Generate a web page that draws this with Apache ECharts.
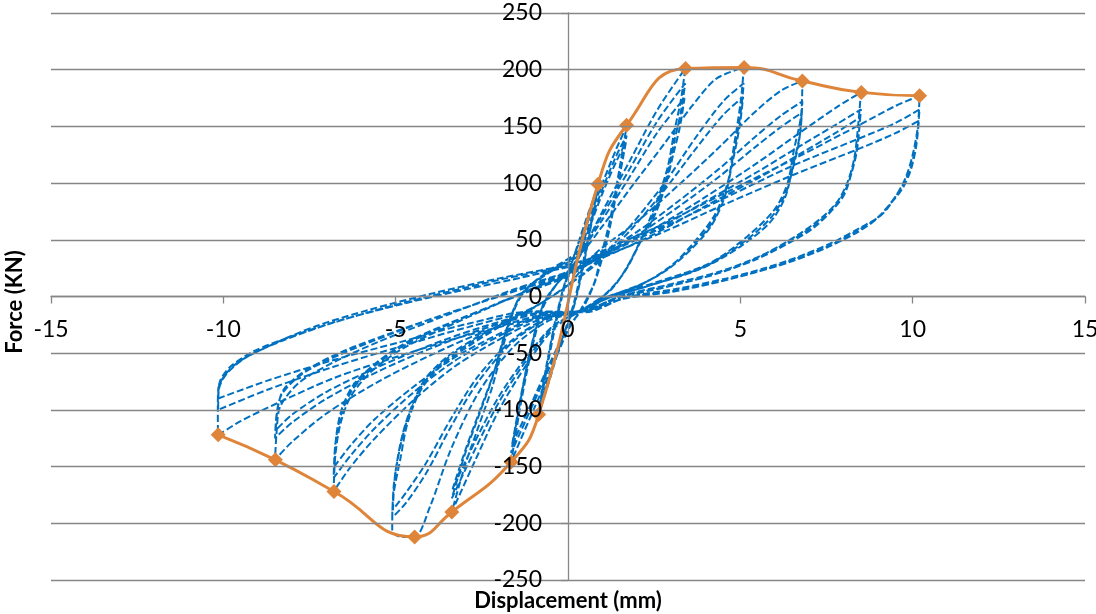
<!DOCTYPE html>
<html>
<head>
<meta charset="utf-8">
<script src="https://cdn.jsdelivr.net/npm/echarts@6/dist/echarts.min.js"></script>
<style>
  html, body { margin: 0; padding: 0; background: #ffffff; }
  #chart { width: 1096px; height: 614px; }
</style>
</head>
<body>
<div id="chart"></div>
<script>
// Axis ticks
const xTicks = { min: -15, max: 15, step: 5 };
const yTicks = { min: -250, max: 250, step: 50 };

// Envelope (skeleton) curve
const envelopeX = [-10.15, -8.49, -6.79, -4.45, -3.37, -1.65, -0.85, 0.87, 1.7, 3.41, 5.11, 6.8, 8.51, 10.2];
const envelopeY = [-122, -144, -172, -212, -190, -146, -104, 99, 151, 201, 202, 190, 180, 177];

// Hysteresis loops, one array per displacement level (x = mm, y = kN), in loading order
const levelA = [
  [0,0],[0.3,35],[0.6,72],[0.87,99],
  [0.65,62],[0.4,25],[0.15,-8],[-0.2,-40],[-0.55,-75],[-0.85,-104],
  [-0.62,-65],[-0.38,-28],[-0.12,6],[0.2,38],[0.55,70],[0.86,96],
  [0.64,59],[0.4,22],[0.15,-10],[-0.2,-40],[-0.55,-72],[-0.84,-100],
  [-0.62,-62],[-0.38,-25],[-0.12,8],[0.2,38],[0.55,68],[0.85,93],
  [0.63,56],[0.4,20],[0.15,-11],[-0.2,-40],[-0.55,-70],[-0.83,-97],
  [-0.62,-60],[-0.38,-23],[-0.12,9],[0.2,38]
];
const levelB = [
  [0.5,60],[1.0,100],[1.4,130],[1.7,150],
  [1.45,105],[1.2,65],[0.95,35],[0.76,12],[0.4,-10],
  [0,-30],[-0.5,-65],[-1.0,-100],[-1.4,-128],[-1.65,-146],
  [-1.4,-100],[-1.15,-60],[-0.9,-28],[-0.7,-8],[-0.3,12],[0.2,30],
  [0.6,62],[1.0,95],[1.4,124],[1.7,142],
  [1.45,100],[1.2,60],[0.95,30],[0.74,10],[0.4,-11],
  [0,-28],[-0.5,-60],[-1.0,-94],[-1.4,-121],[-1.65,-138],
  [-1.4,-95],[-1.15,-56],[-0.9,-25],[-0.7,-6],[-0.3,12],[0.2,29],
  [0.6,59],[1.0,91],[1.4,119],[1.68,136],
  [1.43,95],[1.18,56],[0.93,27],[0.72,8],[0.4,-12],
  [0,-27],[-0.5,-57],[-1.0,-90],[-1.4,-116],[-1.63,-132],
  [-1.38,-90],[-1.13,-52],[-0.88,-22],[-0.68,-4],[-0.3,12],[0.2,28]
];
const levelC = [
  [1.0,75],[1.8,120],[2.6,165],[3.4,201],
  [3.28,174],[3.08,145],[2.9,115],[2.6,86],[2.2,56],[1.73,27],[1.25,6],[0.5,-10],
  [-0.4,-28],[-1.2,-60],[-2,-100],[-2.7,-145],[-3.37,-190],
  [-3.0,-150],[-2.6,-115],[-2.2,-80],[-1.8,-35],[-1.4,0],[-0.6,22],[0.3,40],
  [1,72],[1.8,113],[2.6,155],[3.4,188],
  [3.27,162],[3.07,135],[2.88,107],[2.57,80],[2.15,52],[1.7,25],[1.2,5],[0.5,-11],
  [-0.4,-26],[-1.2,-56],[-2,-93],[-2.7,-135],[-3.37,-178],
  [-3.0,-140],[-2.6,-106],[-2.2,-72],[-1.8,-30],[-1.35,2],[-0.6,21],[0.3,38],
  [1,68],[1.8,106],[2.6,145],[3.38,175],
  [3.25,150],[3.05,125],[2.85,100],[2.55,74],[2.1,48],[1.65,22],[1.15,4],[0.5,-11],
  [-0.4,-25],[-1.2,-53],[-2,-88],[-2.7,-128],[-3.35,-170],
  [-2.95,-133],[-2.55,-100],[-2.15,-67],[-1.75,-27],[-1.3,3],[-0.6,20],[0.3,36]
];
const levelD = [
  [1.0,62],[1.8,95],[2.8,135],[3.6,168],[4.3,192],[5.1,202],
  [5.02,174],[4.8,130],[4.63,100],[4.24,71],[3.66,48],[3,27],[2.2,12],[1.2,0],[0.4,-12],
  [-0.6,-22],[-1.6,-45],[-2.6,-85],[-3.4,-135],[-4.0,-185],[-4.45,-212],[-4.8,-212],[-5.1,-207],
  [-5.08,-180],[-4.85,-141],[-4.65,-111],[-4.26,-82],[-3.68,-61],[-2.9,-44],[-2,-27],[-1,-10],[0,10],
  [0.8,30],[1.8,62],[2.8,100],[3.7,140],[4.5,172],[5.1,188],
  [5.0,160],[4.78,122],[4.58,94],[4.2,66],[3.6,44],[2.9,25],[2.1,10],[1.1,-1],[0.4,-12],
  [-0.6,-20],[-1.6,-40],[-2.6,-75],[-3.4,-115],[-4.1,-155],[-4.7,-182],[-5.1,-195],
  [-5.05,-165],[-4.85,-130],[-4.6,-103],[-4.2,-77],[-3.6,-57],[-2.8,-40],[-1.9,-24],[-0.9,-8],[0,10],
  [0.8,28],[1.8,58],[2.8,94],[3.7,130],[4.5,160],[5.08,176],
  [4.98,150],[4.75,115],[4.55,88],[4.15,62],[3.55,41],[2.85,23],[2.0,9],[1.0,-2],[0.4,-13],
  [-0.6,-19],[-1.6,-38],[-2.6,-70],[-3.4,-108],[-4.1,-146],[-4.7,-173],[-5.08,-188],
  [-5.02,-158],[-4.82,-124],[-4.55,-98],[-4.15,-73],[-3.5,-53],[-2.7,-37],[-1.8,-22],[-0.8,-6],[0,10]
];
const levelE = [
  [0.8,38],[2,66],[3.2,98],[4.4,132],[5.4,162],[6.2,182],[6.8,190],
  [6.76,159],[6.56,130],[6.37,100],[6.0,77],[5.2,53],[4.15,30],[2.5,12],[1.2,0],[0.4,-12],
  [-0.8,-20],[-2,-38],[-3.3,-62],[-4.5,-92],[-5.6,-125],[-6.3,-150],[-6.8,-172],
  [-6.75,-140],[-6.6,-112],[-6.3,-88],[-5.7,-66],[-4.8,-46],[-3.6,-28],[-2.3,-10],[-1.2,5],[0,20],
  [0.8,35],[2,57],[3.2,84],[4.4,113],[5.4,140],[6.2,160],[6.8,172],
  [6.74,145],[6.55,118],[6.33,92],[5.9,70],[5.1,48],[4.0,27],[2.4,10],[1.2,-1],[0.4,-12],
  [-0.8,-18],[-2,-35],[-3.3,-57],[-4.5,-85],[-5.6,-116],[-6.3,-140],[-6.8,-160],
  [-6.75,-130],[-6.58,-104],[-6.25,-82],[-5.6,-61],[-4.7,-42],[-3.5,-25],[-2.2,-8],[-1.1,6],[0,19],
  [0.8,33],[2,54],[3.2,79],[4.4,106],[5.4,131],[6.2,150],[6.78,162],
  [6.7,136],[6.5,110],[6.28,86],[5.85,65],[5.0,44],[3.9,25],[2.3,9],[1.1,-2],[0.4,-13],
  [-0.8,-17],[-2,-33],[-3.3,-54],[-4.5,-80],[-5.6,-108],[-6.3,-131],[-6.78,-150],
  [-6.72,-122],[-6.55,-98],[-6.2,-77],[-5.5,-57],[-4.6,-39],[-3.4,-23],[-2.1,-7],[-1.0,6],[0,18]
];
const levelF = [
  [1,36],[2.5,60],[4,88],[5.5,118],[6.8,146],[7.8,167],[8.5,180],
  [8.4,145],[8.3,121],[8.1,100],[7.8,83],[7.3,68],[6.6,53],[5.6,36],[4.4,22],[3,11],[1.6,1],[0.5,-12],
  [-1,-18],[-2.5,-32],[-4,-52],[-5.5,-75],[-7,-103],[-8,-128],[-8.5,-144],
  [-8.45,-118],[-8.35,-97],[-7.8,-76],[-6.8,-58],[-5.5,-40],[-4,-22],[-2.8,-8],[-1.6,6],[0,22],
  [1,36],[2.5,58],[4,84],[5.5,110],[6.8,134],[7.8,152],[8.5,165],
  [8.4,135],[8.25,112],[8.05,94],[7.7,78],[7.2,64],[6.5,50],[5.5,34],[4.3,20],[2.9,9],[1.5,0],[0.5,-12],
  [-1,-16],[-2.5,-29],[-4,-46],[-5.5,-66],[-7,-90],[-8,-111],[-8.5,-125],
  [-8.45,-103],[-8.3,-86],[-7.7,-68],[-6.6,-51],[-5.3,-35],[-3.9,-19],[-2.6,-6],[-1.4,7],[0,21],
  [1,34],[2.5,55],[4,80],[5.5,104],[6.8,127],[7.8,145],[8.48,158],
  [8.38,128],[8.2,106],[8.0,89],[7.6,74],[7.1,60],[6.4,47],[5.4,32],[4.2,19],[2.8,8],[1.5,-1],[0.5,-13],
  [-1,-15],[-2.5,-27],[-4,-43],[-5.5,-62],[-7,-84],[-8,-104],[-8.48,-118],
  [-8.42,-98],[-8.25,-82],[-7.6,-65],[-6.5,-48],[-5.2,-33],[-3.8,-18],[-2.5,-5],[-1.3,7],[0,20]
];
const levelG = [
  [0.8,37],[2.7,63],[4.6,92],[6.6,122],[8.5,152],[9.5,168],[10.2,177],
  [10.15,150],[10.0,125],[9.8,105],[9.5,88],[9.1,72],[8.5,61],[7.7,48],[6.6,34],[5.6,24],[4.6,16],[3.2,7],[1.8,0],[0.6,-12],
  [-1,-20],[-2.9,-34],[-4.85,-52],[-6.8,-72],[-8.5,-95],[-9.5,-110],[-10.15,-122],
  [-10.16,-100],[-10.15,-82],[-9.7,-61],[-8.7,-44],[-7.3,-26],[-5.8,-12],[-3.9,3],[-2,16],[0,28],
  [0.76,35],[2.7,60],[4.63,88],[6.57,116],[8.5,140],[9.5,153],[10.2,165],
  [10.12,140],[9.98,118],[9.75,100],[9.4,84],[9.0,70],[8.4,58],[7.6,45],[6.5,32],[5.5,22],[4.5,14],[3.1,5],[1.7,-1],[0.5,-13],
  [-1,-14],[-2.9,-27],[-4.85,-44],[-6.8,-62],[-8.7,-82],[-10.15,-100],
  [-10.13,-82],[-9.9,-68],[-9.3,-53],[-8.2,-38],[-6.8,-23],[-5.2,-9],[-3.5,4],[-1.8,16],[0,27],
  [0.8,33],[2.7,56],[4.6,82],[6.6,108],[8.5,131],[9.5,144],[10.18,155],
  [10.1,132],[9.95,112],[9.7,95],[9.3,80],[8.9,67],[8.3,55],[7.5,43],[6.4,30],[5.4,21],[4.4,13],[3.0,4],[1.6,-2],[0.5,-14],
  [-1,-13],[-2.9,-24],[-4.85,-40],[-6.8,-56],[-8.7,-74],[-10.15,-90],
  [-10.1,-75],[-9.8,-62],[-9.1,-48],[-8,-35],[-6.6,-21],[-5,-8],[-3.3,4],[-1.6,15],[0,26]
];

const xTitle = 'Displacement (mm)';
const yTitle = 'Force (KN)';

const loopData = [].concat(levelA, levelB, levelC, levelD, levelE, levelF, levelG);
const envelopeData = envelopeX.map((x, i) => [x, envelopeY[i]]);

const chart = echarts.init(document.getElementById('chart'), null, { renderer: 'canvas' });
const FONT = 'Lato';
const GRAY = '#868686';

// grid geometry
const G_LEFT = 51, G_RIGHT = 11, G_TOP = 13, G_BOTTOM = 34;
const plotW = 1096 - G_LEFT - G_RIGHT;
const plotH = 614 - G_TOP - G_BOTTOM;
// offsets that place each axis (line + ticks + labels) on the other axis's zero
const yAxisOffset = -plotW * (0 - xTicks.min) / (xTicks.max - xTicks.min);
const xAxisOffset = -plotH * (0 - yTicks.min) / (yTicks.max - yTicks.min);

chart.setOption({
  animation: false,
  backgroundColor: '#ffffff',
  grid: { left: G_LEFT, right: G_RIGHT, top: G_TOP, bottom: G_BOTTOM, containLabel: false, outerBoundsMode: 'none' },
  xAxis: {
    type: 'value',
    position: 'bottom',
    offset: xAxisOffset,
    min: xTicks.min, max: xTicks.max, interval: xTicks.step,
    z: 10,
    axisLine: { show: true, onZero: false, lineStyle: { color: GRAY, width: 1.3 } },
    axisTick: { show: true, length: 7, lineStyle: { color: GRAY, width: 1.3 } },
    axisLabel: { fontFamily: FONT, fontSize: 23, color: '#000', margin: 22 },
    splitLine: { show: false }
  },
  yAxis: {
    type: 'value',
    position: 'left',
    offset: yAxisOffset,
    min: yTicks.min, max: yTicks.max, interval: yTicks.step,
    z: 10,
    axisLine: { show: true, onZero: false, lineStyle: { color: GRAY, width: 1.3 } },
    axisTick: { show: true, length: 7, lineStyle: { color: GRAY, width: 1.3 } },
    axisLabel: { fontFamily: FONT, fontSize: 23, color: '#000', margin: 26 },
    splitLine: { show: true, lineStyle: { color: GRAY, width: 1.3 } }
  },
  graphic: [
    { type: 'text', x: 568, y: 601, z: 100,
      style: { text: xTitle, font: 'bold 22px Lato', fill: '#000', textAlign: 'center', textVerticalAlign: 'middle' } },
    { type: 'text', x: 15, y: 302, rotation: Math.PI / 2, z: 100,
      style: { text: yTitle, font: 'bold 22px Lato', fill: '#000', textAlign: 'center', textVerticalAlign: 'middle' } }
  ],
  series: [
    {
      type: 'line',
      data: loopData,
      showSymbol: false,
      smooth: 0.3,
      lineStyle: { color: '#0070C0', width: 2, type: [7, 3] },
      z: 2
    },
    {
      type: 'line',
      data: envelopeData,
      smooth: 0.5,
      symbol: 'diamond',
      symbolSize: 15,
      itemStyle: { color: '#DF853A' },
      lineStyle: { color: '#DF853A', width: 3 },
      z: 3
    }
  ]
});
</script>
</body>
</html>
